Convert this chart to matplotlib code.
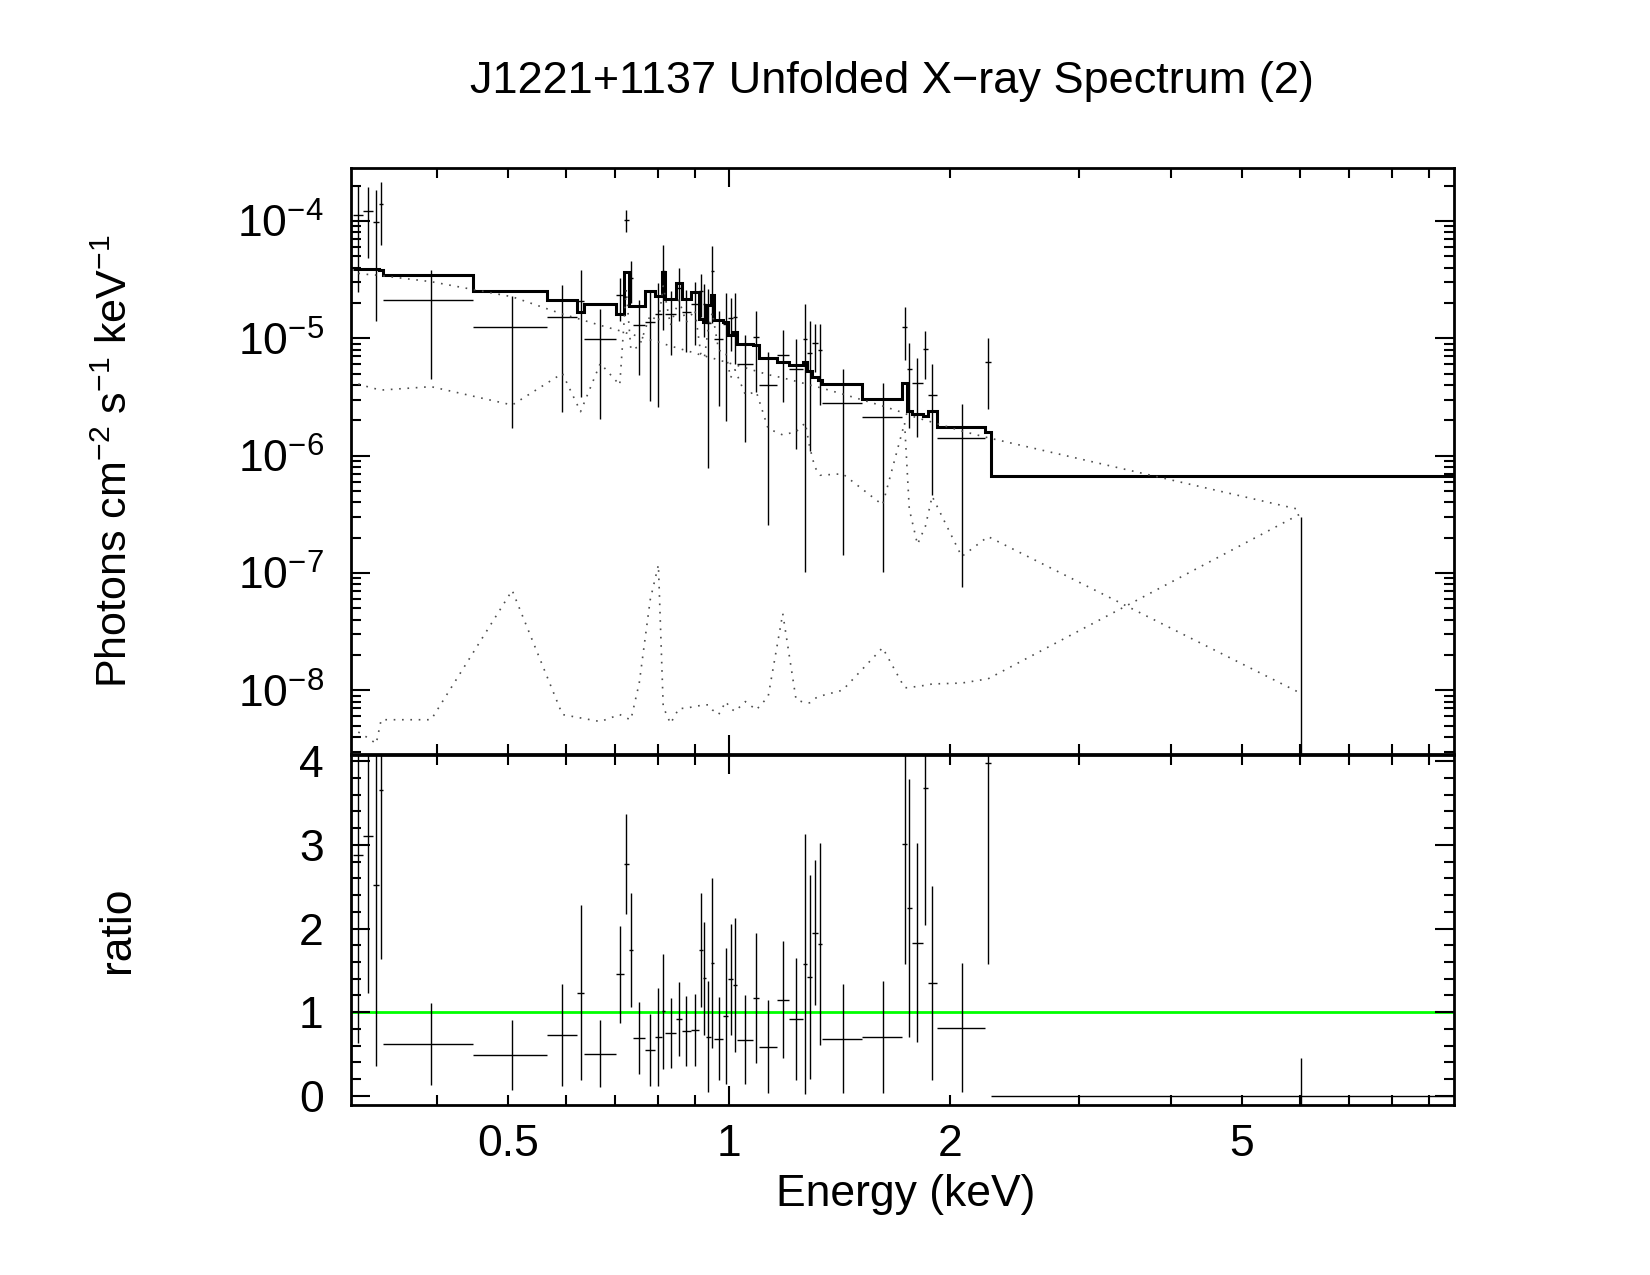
import numpy as np
import matplotlib
matplotlib.use('Agg')
import matplotlib.pyplot as plt
from matplotlib.ticker import FixedLocator, FuncFormatter, LogLocator, MultipleLocator, NullFormatter

plt.rcParams['font.family'] = ['Liberation Sans', 'DejaVu Sans']
plt.rcParams['mathtext.fontset'] = 'custom'
plt.rcParams['mathtext.rm'] = 'Liberation Sans'
plt.rcParams['mathtext.default'] = 'regular'

# 能量分箱 (keV)
bin_lo = [0.3077, 0.3175, 0.3277, 0.3336, 0.3381, 0.4475, 0.5656, 0.6203, 0.6352, 0.7006,
          0.7191, 0.7298, 0.7404, 0.7688, 0.7933, 0.8094, 0.8178, 0.8470, 0.8623, 0.8868,
          0.9102, 0.9209, 0.9304, 0.9442, 0.9540, 0.9823, 0.9978, 1.0117, 1.0264, 1.0792,
          1.0998, 1.1615, 1.2060, 1.2626, 1.2786, 1.2963, 1.3210, 1.3402, 1.5160, 1.7219,
          1.7475, 1.7734, 1.8391, 1.8646, 1.9180, 2.2326, 2.2752]
bin_hi = bin_lo[1:] + [9.75]

# 模型 (photons cm-2 s-1 keV-1)
model = [3.92e-5, 3.92e-5, 3.92e-5, 3.82e-5, 3.46e-5, 2.55e-5, 2.12e-5, 1.69e-5, 1.96e-5, 1.60e-5,
         3.70e-5, 1.89e-5, 1.88e-5, 2.55e-5, 2.31e-5, 3.70e-5, 2.15e-5, 2.94e-5, 2.15e-5, 2.50e-5,
         1.45e-5, 1.39e-5, 1.92e-5, 2.34e-5, 1.44e-5, 1.39e-5, 1.07e-5, 1.14e-5, 8.94e-6, 8.77e-6,
         6.75e-6, 6.32e-6, 5.92e-6, 6.32e-6, 5.30e-6, 4.71e-6, 4.41e-6, 4.08e-6, 3.02e-6, 4.13e-6,
         2.42e-6, 2.26e-6, 2.19e-6, 2.42e-6, 1.74e-6, 1.58e-6, 6.75e-7]

# data / model 及其误差
ratio = [2.88, 3.10, 2.52, 3.65, 0.617, 0.486, 0.722, 1.234, 0.505, 1.453,
         2.77, 1.743, 0.693, 0.545, 0.70, 1.01, 0.752, 0.92, 0.776, 0.784,
         1.743, 1.405, 0.704, 1.592, 0.685, 0.951, 1.393, 1.325, 0.673, 1.170,
         0.589, 1.150, 0.923, 1.572, 1.425, 1.950, 1.819, 0.685, 0.704, 3.005,
         2.249, 1.831, 3.674, 1.349, 0.816, 3.98, -0.008]
ratio_err = [2.25, 1.87, 2.16, 2.02, 0.487, 0.418, 0.61, 1.047, 0.40, 0.577,
             0.60, 0.68, 0.434, 0.43, 0.587, 0.69, 0.42, 0.44, 0.42, 0.43,
             0.687, 0.673, 0.663, 1.015, 0.50, 0.81, 0.665, 0.80, 0.527, 0.776,
             0.551, 0.70, 0.73, 1.556, 1.22, 0.864, 1.208, 0.65, 0.67, 1.433,
             1.544, 1.188, 1.632, 1.158, 0.772, 2.40, 0.455]

# 模型分量 (在分箱中心)
comp_pow = [3.58e-5, 3.50e-5, 3.46e-5, 3.42e-5, 3.04e-5, 2.26e-5, 1.61e-5, 1.45e-5, 1.29e-5, 1.16e-5,
            1.11e-5, 1.09e-5, 1.03e-5, 9.7e-6, 9.3e-6, 9.0e-6, 8.6e-6, 8.2e-6, 7.85e-6, 7.5e-6,
            7.2e-6, 7.1e-6, 6.9e-6, 6.8e-6, 6.5e-6, 6.3e-6, 6.1e-6, 5.95e-6, 5.6e-6, 5.25e-6,
            4.9e-6, 4.6e-6, 4.3e-6, 4.1e-6, 4.0e-6, 3.9e-6, 3.8e-6, 3.35e-6, 2.65e-6, 2.3e-6,
            2.2e-6, 2.1e-6, 2.0e-6, 1.93e-6, 1.62e-6, 1.42e-6, 3.45e-7]
comp_apec = [4.08e-6, 3.85e-6, 3.7e-6, 3.62e-6, 3.87e-6, 2.70e-6, 5.02e-6, 2.37e-6, 6.12e-6, 4.0e-6,
             2.59e-5, 8.0e-6, 8.5e-6, 1.58e-5, 1.38e-5, 2.8e-5, 1.29e-5, 2.12e-5, 1.37e-5, 1.75e-5,
             7.3e-6, 6.8e-6, 1.23e-5, 1.66e-5, 7.9e-6, 7.6e-6, 4.6e-6, 5.4e-6, 3.3e-6, 3.5e-6,
             1.7e-6, 1.5e-6, 1.6e-6, 1.9e-6, 1.2e-6, 8.0e-7, 6.8e-7, 7.0e-7, 3.8e-7, 1.9e-6,
             3.5e-7, 1.75e-7, 2.5e-7, 4.5e-7, 1.38e-7, 2.04e-7, 9.4e-9]
comp_hard = [4.4e-9, 3.9e-9, 3.5e-9, 5.6e-9, 5.6e-9, 7.1e-8, 6.2e-9, 5.8e-9, 5.4e-9, 6.2e-9,
             5.8e-9, 5.6e-9, 1.15e-8, 5.9e-8, 1.17e-7, 7.2e-9, 5.2e-9, 7.0e-9, 7.0e-9, 7.3e-9,
             7.4e-9, 7.5e-9, 7.5e-9, 6.8e-9, 6.2e-9, 8.0e-9, 7.0e-9, 6.6e-9, 8.0e-9, 6.8e-9,
             8.8e-9, 4.5e-8, 8.3e-9, 7.8e-9, 7.8e-9, 8.5e-9, 8.9e-9, 1.0e-8, 2.3e-8, 1.05e-8,
             1.05e-8, 1.08e-8, 1.1e-8, 1.13e-8, 1.15e-8, 1.25e-8, 3.2e-7]

lo = np.array(bin_lo)
hi = np.array(bin_hi)
mid = (lo + hi) / 2
m = np.array(model)
r = np.array(ratio)
re = np.array(ratio_err)
flux = r * m
flux_err = re * m
edges = np.append(lo, hi[-1])

fig = plt.figure(figsize=(16.5, 12.75), dpi=100)
ax1 = fig.add_axes([0.21303, 0.40824, 0.66836, 0.45969])
ax2 = fig.add_axes([0.21303, 0.13333, 0.66836, 0.27490], sharex=ax1)

xlim = (0.306, 9.73)

# 上图: 展开谱
ax1.set_xscale('log')
ax1.set_yscale('log', nonpositive='clip')
ax1.errorbar(mid, flux, xerr=[mid - lo, hi - mid], yerr=flux_err, fmt='none',
             ecolor='black', elinewidth=1.0, capsize=0)
ax1.stairs(m, edges, baseline=None, color='black', linewidth=2.2)
for comp in (comp_pow, comp_apec, comp_hard):
    ax1.plot(mid, comp, color='0.3', linestyle=(0, (1, 4)), linewidth=1.2)
ax1.set_xlim(*xlim)
ax1.set_ylim(2.83e-9, 2.81e-4)
ax1.yaxis.set_major_locator(LogLocator(base=10, numticks=20))
ax1.yaxis.set_minor_locator(LogLocator(base=10, subs=np.arange(2, 10), numticks=20))
ax1.yaxis.set_minor_formatter(NullFormatter())

# 下图: ratio
ax2.errorbar(mid, r, xerr=[mid - lo, hi - mid], yerr=re, fmt='none',
             ecolor='black', elinewidth=1.0, capsize=0)
ax2.axhline(1, color='#00ff00', linewidth=2.0, zorder=1)
ax2.set_ylim(-0.11, 4.08)
ax2.yaxis.set_major_locator(MultipleLocator(1))
ax2.yaxis.set_minor_locator(MultipleLocator(0.2))
ax2.yaxis.set_major_formatter(FuncFormatter(lambda v, p: '%d' % round(v)))

lab = {0.5: '0.5', 2.0: '2', 5.0: '5'}
ax2.xaxis.set_major_locator(FixedLocator([1, 10]))
ax2.xaxis.set_minor_locator(FixedLocator([0.4, 0.5, 0.6, 0.7, 0.8, 0.9, 2, 3, 4, 5, 6, 7, 8, 9]))
ax2.xaxis.set_major_formatter(FuncFormatter(lambda v, p: '%g' % v))
ax2.xaxis.set_minor_formatter(FuncFormatter(lambda v, p: lab.get(round(v, 2), '')))

for ax in (ax1, ax2):
    for s in ax.spines.values():
        s.set_linewidth(2.0)
    ax.tick_params(which='both', direction='in', top=True, right=True, width=1.5,
                   labelsize=32)
    ax.tick_params(which='major', length=13.7)
    ax.tick_params(which='minor', length=7.2)
    ax.tick_params(axis='y', which='both', pad=20)
    ax.tick_params(axis='x', which='both', pad=14)
ax1.tick_params(which='both', labelbottom=False)

fig.text(0.5406, 0.936, 'J1221+1137 Unfolded X\u2212ray Spectrum (2)', fontsize=32.5,
         ha='center', va='center')
fig.text(0.0703, 0.638, r'Photons cm$^{-2}$ s$^{-1}$ keV$^{-1}$', fontsize=31,
         rotation=90, ha='center', va='center')
fig.text(0.0715, 0.2706, 'ratio', fontsize=32, rotation=90, ha='center', va='center')
fig.text(0.549, 0.0635, 'Energy (keV)', fontsize=32, ha='center', va='center')

fig.savefig('out.png', dpi=100)
